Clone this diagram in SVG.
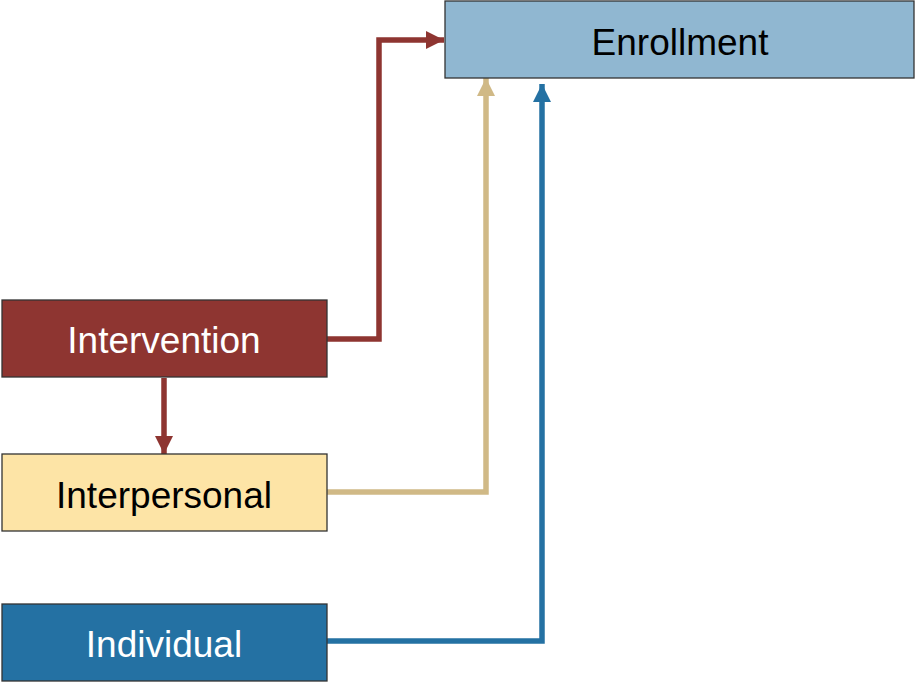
<svg xmlns="http://www.w3.org/2000/svg" width="915" height="682" viewBox="0 0 915 682">
<style>
.box{stroke:#333;stroke-width:1.3}
.lbl{font-family:"Liberation Sans",Arial,sans-serif;font-size:37px;text-anchor:middle}
.c{fill:none;stroke-width:5.5}
</style>
<defs>
<marker id="mr" viewBox="0 0 10 10" refX="10" refY="5" markerWidth="3.4" markerHeight="3.3" markerUnits="strokeWidth" orient="auto"><path d="M0,0L10,5L0,10Z" fill="#8e3531"/></marker>
<marker id="mt" viewBox="0 0 10 10" refX="10" refY="5" markerWidth="3.4" markerHeight="3.3" markerUnits="strokeWidth" orient="auto"><path d="M0,0L10,5L0,10Z" fill="#d0b986"/></marker>
<marker id="mb" viewBox="0 0 10 10" refX="10" refY="5" markerWidth="3.4" markerHeight="3.3" markerUnits="strokeWidth" orient="auto"><path d="M0,0L10,5L0,10Z" fill="#2471a3"/></marker>
</defs>
<rect width="915" height="682" fill="#fff"/>
<g id="connectors">
<path class="c" d="M327,339H379V40H444" stroke="#8e3531" marker-end="url(#mr)"/>
<path class="c" d="M164,378V454" stroke="#8e3531" marker-end="url(#mr)"/>
<path class="c" d="M327,492H486V78" stroke="#d0b986" marker-end="url(#mt)"/>
<path class="c" d="M327,641H542V84" stroke="#2471a3" marker-end="url(#mb)"/>
</g>
<g id="enrollment">
<rect class="box" x="445" y="1" width="469" height="77" fill="#90b7d1"/>
<text class="lbl" x="680" y="55" fill="#000">Enrollment</text>
</g>
<g id="intervention">
<rect class="box" x="2" y="300" width="325" height="77" fill="#8e3531"/>
<text class="lbl" x="164" y="353" fill="#fff">Intervention</text>
</g>
<g id="interpersonal">
<rect class="box" x="2" y="454" width="325" height="77" fill="#fde4a6"/>
<text class="lbl" x="164" y="508" fill="#000">Interpersonal</text>
</g>
<g id="individual">
<rect class="box" x="2" y="604" width="325" height="77" fill="#2471a3"/>
<text class="lbl" x="164" y="657" fill="#fff">Individual</text>
</g>
</svg>
